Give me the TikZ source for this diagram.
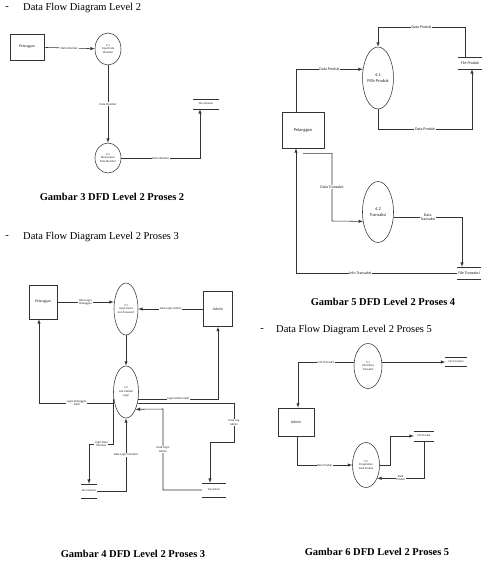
\documentclass[tikz,border=0pt]{standalone}
\usepackage{fontspec}
\setmainfont{Liberation Serif}
\newfontfamily\dfdfont{Carlito}
\usetikzlibrary{shapes.geometric}

\begin{document}
\begin{tikzpicture}[x=1pt,y=-1pt]
\tikzstyle{every node}+=[inner sep=0pt]
\tikzstyle{flow}=[draw=black!80,line width=0.55pt,-latex]
\tikzstyle{lbl}=[fill=white,inner sep=0.6pt,align=center,text=black!85,font=\dfdfont\fontsize{3}{3.4}\selectfont]
\tikzstyle{entity}=[draw=black!80,line width=0.55pt,align=center,text=black!85,font=\dfdfont\fontsize{3.8}{4.4}\selectfont]
\tikzstyle{proc}=[ellipse,draw=black!80,line width=0.55pt,align=center,inner sep=0.3pt,text=black!85,font=\dfdfont\fontsize{2.9}{3.7}\selectfont]
\tikzstyle{store}=[align=center,text=black!85,font=\dfdfont\fontsize{2.8}{3.2}\selectfont,
  append after command={(\tikzlastnode.north west) edge[draw=black!80,line width=0.55pt] (\tikzlastnode.north east)
  (\tikzlastnode.south west) edge[draw=black!80,line width=0.55pt] (\tikzlastnode.south east)}]
\tikzstyle{head}=[font=\fontsize{10.5}{12}\selectfont]
\tikzstyle{gbcap}=[font=\bfseries\fontsize{10.5}{12}\selectfont]
\tikzstyle{big}=[font=\dfdfont\fontsize{4}{4.6}\selectfont]
\fill[white] (0,0) rectangle (490,582);
\useasboundingbox (0,0) rectangle (490,582);

% headings and captions
\node[head] (d1) at (7,8) {-};
\node[head,anchor=west] (h1) at (23,8) {Data Flow Diagram Level 2};
\node[gbcap] (g3) at (112,197) {Gambar 3 DFD Level 2 Proses 2};
\node[head] (d2) at (7,237) {-};
\node[head,anchor=west] (h2) at (23,237) {Data Flow Diagram Level 2 Proses 3};
\node[gbcap] (g4) at (133,554) {Gambar 4 DFD Level 2 Proses 3};
\node[gbcap] (g5) at (383,302) {Gambar 5 DFD Level 2 Proses 4};
\node[head] (d3) at (262,330) {-};
\node[head,anchor=west] (h3) at (276,330) {Data Flow Diagram Level 2 Proses 5};
\node[gbcap] (g6) at (377,552) {Gambar 6 DFD Level 2 Proses 5};

% proses 2
\node[entity,minimum width=34pt,minimum height=26pt] (pel2) at (27,47) {Pelanggan};
\node[proc,minimum width=26pt,minimum height=32pt] (p21) at (108,49) {2.1\\Input Data\\Member};
\node[proc,minimum width=26pt,minimum height=30pt] (p22) at (108,158) {2.2\\Menyimpan\\Data Member};
\node[store,minimum width=25pt,minimum height=10pt] (fmem2) at (206,104) {File Member};
\draw[flow] (pel2) -- node[lbl]{Data Member} (p21);
\draw[flow] (p21) -- node[lbl]{Data Member} (p22);
\draw[flow] (p22.east) -| node[lbl,pos=0.25]{Data Member} ([xshift=-6pt]fmem2.south);

% proses 3
\node[entity,minimum width=28pt,minimum height=34pt] (pel3) at (43,302) {Pelanggan};
\node[proc,minimum width=24pt,minimum height=52pt] (p31) at (126,309) {3.1\\Input Nama\\dan Password};
\node[entity,minimum width=29pt,minimum height=35pt] (adm3) at (218,309) {Admin};
\node[proc,minimum width=25pt,minimum height=52pt] (p32) at (126,392) {3.2\\Cek Validasi\\Login};
\node[store,minimum width=16pt,minimum height=14pt] (fmem3) at (89,491) {File Member};
\node[store,minimum width=24pt,minimum height=14pt] (fadm3) at (214,490) {File Admin};
\coordinate (c31) at (234,442);
\coordinate (c32) at (163,409);
\coordinate (c33) at (89,444);
\draw[flow] (pel3.east) -- node[lbl]{Data Login\\Pelanggan} (pel3.east -| p31.west);
\draw[flow] (adm3.west) -- node[lbl]{Data Login Admin} (p31.east);
\draw[flow] (p31) -- (p32);
\draw[flow] (p32.224) -| node[lbl,pos=0.25]{Login Pelanggan\\Valid} ([xshift=-4pt]pel3.south);
\draw[flow] (p32.-30) -| node[lbl,pos=0.25]{Login Admin Valid} (adm3.south);
\draw[flow] (p32.-44) -| node[lbl,pos=0.75]{Data Log\\Admin} (c31) -| ([xshift=-4pt]fadm3.north);
\draw[flow] (fadm3.west) -| node[lbl,pos=0.75]{Data Login\\Admin} (c32) -- (p32.-61);
\draw[flow] (p32.211) |- node[lbl,pos=0.75]{Login Data\\Member} (c33) -- (fmem3.north);
\draw[flow] (fmem3.east) -| node[lbl,pos=0.75]{Data Login Member} (p32.south);

% proses 4
\node[proc,minimum width=29pt,minimum height=62pt,font=\dfdfont\fontsize{4.4}{5.8}\selectfont] (p41) at (378,78) {4.1\\Pilih Produk};
\node[store,big,minimum width=24pt,minimum height=12pt] (fprod4) at (470,63) {File Produk};
\node[entity,minimum width=42pt,minimum height=36pt,font=\dfdfont\fontsize{4.4}{5}\selectfont] (pel4) at (303,130) {Pelanggan};
\node[proc,minimum width=31pt,minimum height=61pt,font=\dfdfont\fontsize{4.4}{5.8}\selectfont] (p42) at (378,212) {4.2\\Transaksi};
\node[store,big,minimum width=24pt,minimum height=12pt] (ftr4) at (469,273) {File Transaksi};
\coordinate (t41) at (378,27);
\coordinate (b41) at (472,129);
\coordinate (m42) at (332,221);
\draw[flow] ([xshift=-5pt]fprod4.north) |- node[lbl,big,pos=0.75]{Data Produk} (t41) -- (p41.north);
\draw[flow] ([xshift=-7pt]pel4.north) |- node[lbl,big,pos=0.75]{Data Produk} (p41.150);
\draw[flow] (p41.south) |- node[lbl,big,pos=0.75]{Data Produk} (b41) -- ([xshift=2pt]fprod4.south);
\draw[flow] ([yshift=-5pt]pel4.south) -| node[lbl,big,pos=0.75]{Data Transaksi} (m42) -- (p42.212);
\draw[flow] (p42.-19) -| node[lbl,big,pos=0.25]{Data\\Transaksi} ([xshift=-7pt]ftr4.north);
\draw[flow] (ftr4.west) -| node[lbl,big,pos=0.3]{Info Transaksi} ([xshift=-7pt]pel4.south);

% proses 5
\node[proc,minimum width=28pt,minimum height=45pt] (p51) at (368,366) {5.1\\Lihat Data\\Transaksi};
\node[store,minimum width=21pt,minimum height=9pt] (ftr5) at (456,362) {File Transaksi};
\node[entity,minimum width=36pt,minimum height=28pt] (adm5) at (296,422) {Admin};
\node[proc,minimum width=27pt,minimum height=45pt] (p52) at (366,465) {5.2\\Pengolahan\\Data Produk};
\node[store,minimum width=20pt,minimum height=10pt] (fprod5) at (424,436) {File Produk};
\coordinate (k51) at (390,436);
\draw[flow] (p51.east |- ftr5) -- (ftr5.west);
\draw[flow] (p51.west |- ftr5) -| node[lbl,pos=0.25]{Info Transaksi} ([xshift=2pt]adm5.north);
\draw[flow] ([xshift=1pt]adm5.south) |- node[lbl,pos=0.75]{Data Produk} (p52.west);
\draw[flow] (p52.east) -| (k51) -- (fprod5.west);
\draw[flow] (fprod5.south) |- node[lbl,pos=0.75]{Data\\Produk} (p52.-50);
\end{tikzpicture}
\end{document}
